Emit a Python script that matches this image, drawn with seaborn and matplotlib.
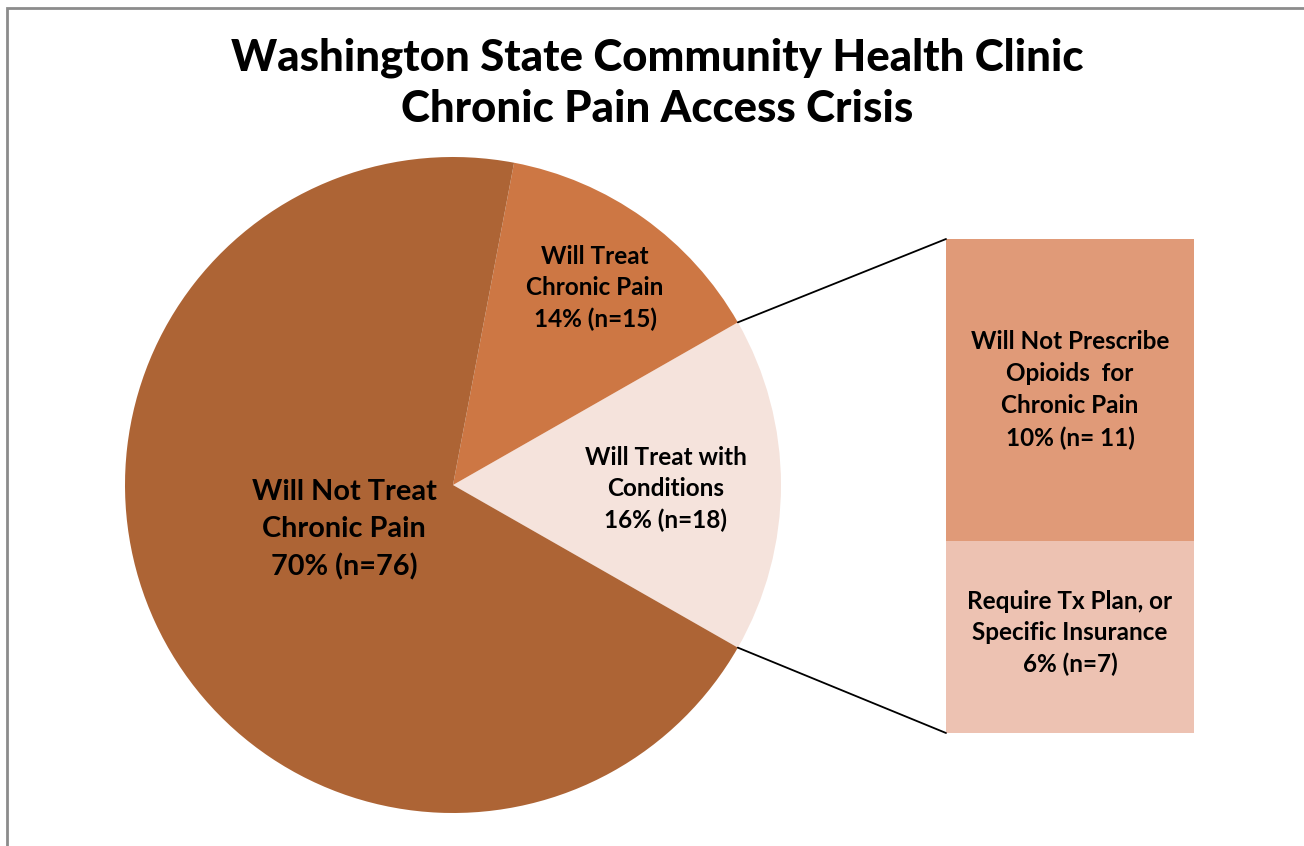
import numpy as np
import matplotlib
matplotlib.use("Agg")
import matplotlib.pyplot as plt
import seaborn as sns
from matplotlib.patches import Rectangle

# ---- data ----
pie_labels = ["Will Treat with\nConditions\n16% (n=18)",
              "Will Treat\nChronic Pain\n14% (n=15)",
              "Will Not Treat\nChronic Pain\n70% (n=76)"]
pie_counts = [18, 15, 76]
pie_colors = ["#F5E3DC", "#CD7744", "#AD6435"]

bar_labels = ["Require Tx Plan, or\nSpecific Insurance\n6% (n=7)",
              "Will Not Prescribe\nOpioids  for\nChronic Pain\n10% (n= 11)"]
bar_counts = [7, 11]
bar_colors = ["#EDC2B2", "#E09A78"]

title = "Washington State Community Health Clinic\nChronic Pain Access Crisis"

sns.set_theme(style="white")
plt.rcParams['font.family'] = ['Lato', 'DejaVu Sans']

W, H = 1304, 846
fig = plt.figure(figsize=(W / 100, H / 100), dpi=100)
ax = fig.add_axes([0, 0, 1, 1])

# frame (cropped at right/bottom)
fig.add_artist(Rectangle((7 / W, -0.1), 1.2, (H - 8) / H + 0.1, transform=fig.transFigure,
                         fill=False, edgecolor="#8c8c8c", linewidth=2))

# ---- pie ----
cx, cy, R = 453, H - 485, 328
total = sum(pie_counts)
start = -pie_counts[0] / total * 360 / 2
wedges, _ = ax.pie(pie_counts, colors=pie_colors, startangle=start, counterclock=True,
                   center=(cx, cy), radius=R, frame=True,
                   wedgeprops=dict(linewidth=0))
ax.set_xlim(0, W)
ax.set_ylim(0, H)
ax.set_aspect('equal')
ax.axis('off')

label_pos = [(666, 489), (595, 288), (344, 530)]
label_size = [17.5, 17.5, 20.8]
label_ls = [1.42, 1.42, 1.52]
for lab, (px, py), fs, ls in zip(pie_labels, label_pos, label_size, label_ls):
    ax.text(px, H - py, lab, ha='center', va='center', fontsize=fs, fontweight='bold',
            color='black', linespacing=ls)

# ---- bar of pie ----
bar_x0, bar_x1 = 946, 1194
bar_bottom_px, bar_top_px = 733, 239
unit = (bar_top_px - bar_bottom_px) / sum(bar_counts)  # negative in pixel space
bottom = H - bar_bottom_px
for lab, v, c in zip(bar_labels, bar_counts, bar_colors):
    h = -unit * v
    ax.bar((bar_x0 + bar_x1) / 2, h, width=bar_x1 - bar_x0, bottom=bottom, color=c,
           linewidth=0)
    ax.text((bar_x0 + bar_x1) / 2, bottom + h / 2 + (4 if v == 7 else 0), lab,
            ha='center', va='center', fontsize=17.5, fontweight='bold', color='black',
            linespacing=1.42 if v == 7 else 1.49)
    bottom += h

# connector lines
a1 = np.deg2rad(start + 360 * pie_counts[0] / total)
a0 = np.deg2rad(start)
ax.plot([cx + R * np.cos(a1), bar_x0], [cy + R * np.sin(a1), H - bar_top_px],
        color='black', linewidth=1.3)
ax.plot([cx + R * np.cos(a0), bar_x0], [cy + R * np.sin(a0), H - bar_bottom_px],
        color='black', linewidth=1.3)

fig.text(657 / W, 1 - 83 / H, title, ha='center', va='center', fontsize=31.5,
         fontweight='black', color='black', linespacing=1.32)

fig.savefig("out.png", dpi=100)
